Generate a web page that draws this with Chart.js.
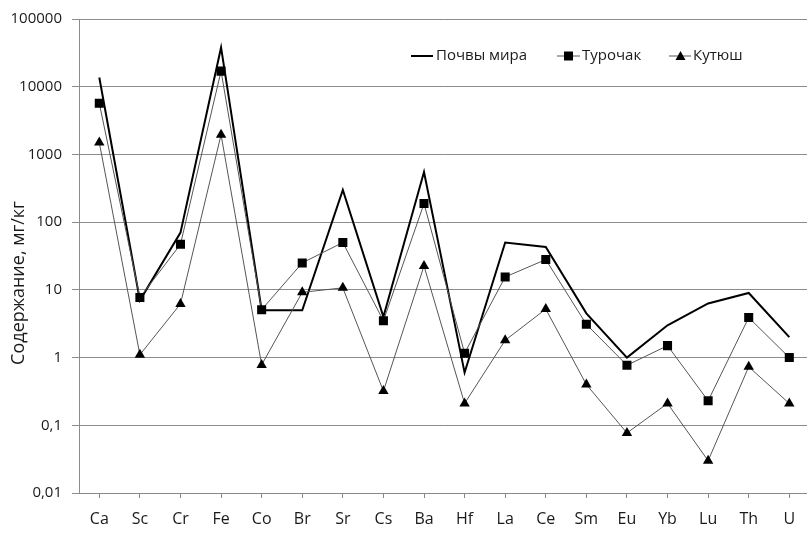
<!DOCTYPE html>
<html>
<head>
<meta charset="utf-8">
<script src="https://cdn.jsdelivr.net/npm/chart.js@4/dist/chart.umd.min.js"></script>
<style>
    body { margin: 0; background: #fff; overflow: hidden; }
    #wrap { width: 816px; height: 534px; }
</style>
</head>
<body>
<div id="wrap"><canvas id="grafico" width="816" height="534"></canvas></div>
<script>
// Элементы
const elementos = ['Ca', 'Sc', 'Cr', 'Fe', 'Co', 'Br', 'Sr', 'Cs', 'Ba', 'Hf', 'La', 'Ce', 'Sm', 'Eu', 'Yb', 'Lu', 'Th', 'U'];

// Содержание, мг/кг
const pochvyMira = [13700, 7, 70, 38000, 5, 5, 300, 4, 550, 0.6, 50, 43, 4.5, 1, 3, 6.3, 9, 2];
const turochak = [5700, 7.7, 47, 17000, 5.1, 25, 50, 3.5, 188, 1.16, 15.5, 28, 3.1, 0.77, 1.5, 0.23, 3.9, 1];
const kutyush = [1500, 1.1, 6.2, 1950, 0.78, 9.2, 10.7, 0.32, 22.5, 0.21, 1.8, 5.2, 0.4, 0.077, 0.21, 0.03, 0.73, 0.21];

// Деления оси Y
const yTicks = [0.01, 0.1, 1, 10, 100, 1000, 10000, 100000];
const yTickLabels = ['0,01', '0,1', '1', '10', '100', '1000', '10000', '100000'];

const FONTE = '"Open Sans", "Noto Sans", sans-serif';
const COR_TEXTO = '#1a1a1a';

// Легенда и подпись оси рисуются вручную
const legendaPlugin = {
    id: 'legendaManual',
    afterDraw(chart) {
        const ctx = chart.ctx;
        const y = 56;
        ctx.save();
        ctx.font = '15px ' + FONTE;
        ctx.fillStyle = COR_TEXTO;
        ctx.textBaseline = 'middle';

        // Почвы мира
        ctx.strokeStyle = '#000';
        ctx.lineWidth = 2;
        ctx.beginPath(); ctx.moveTo(411, y); ctx.lineTo(433, y); ctx.stroke();
        ctx.fillText('Почвы мира', 436, y);

        // Турочак
        ctx.strokeStyle = '#555';
        ctx.lineWidth = 1;
        ctx.beginPath(); ctx.moveTo(557, y); ctx.lineTo(580, y); ctx.stroke();
        ctx.fillStyle = '#000';
        ctx.fillRect(564, y - 4.5, 9, 9);
        ctx.fillStyle = COR_TEXTO;
        ctx.fillText('Турочак', 582, y);

        // Кутюш
        ctx.beginPath(); ctx.moveTo(669, y); ctx.lineTo(691, y); ctx.stroke();
        ctx.fillStyle = '#000';
        ctx.beginPath();
        ctx.moveTo(680.5, y - 5); ctx.lineTo(685.5, y + 4); ctx.lineTo(675.5, y + 4);
        ctx.closePath(); ctx.fill();
        ctx.fillStyle = COR_TEXTO;
        ctx.fillText('Кутюш', 693, y);

        // Подпись оси Y
        ctx.translate(19, 283);
        ctx.rotate(-Math.PI / 2);
        ctx.textAlign = 'center';
        ctx.font = '18px ' + FONTE;
        ctx.fillText('Содержание, мг/кг', 0, 0);
        ctx.restore();
    }
};

const ctx = document.getElementById('grafico').getContext('2d');
new Chart(ctx, {
    type: 'line',
    data: {
        labels: elementos,
        datasets: [{
            label: 'Почвы мира',
            data: pochvyMira,
            borderColor: '#000',
            borderWidth: 2,
            pointRadius: 0,
            tension: 0,
            order: 2
        }, {
            label: 'Турочак',
            data: turochak,
            borderColor: '#555',
            borderWidth: 1,
            pointStyle: 'rect',
            pointRadius: 6.4,
            pointBackgroundColor: '#000',
            pointBorderWidth: 0,
            tension: 0,
            order: 1
        }, {
            label: 'Кутюш',
            data: kutyush,
            borderColor: '#555',
            borderWidth: 1,
            pointStyle: 'triangle',
            pointRadius: 6,
            pointBackgroundColor: '#000',
            pointBorderWidth: 0,
            tension: 0,
            order: 0
        }]
    },
    options: {
        responsive: false,
        animation: false,
        layout: {
            padding: { top: 17, right: 2, left: 0, bottom: 0 }
        },
        plugins: {
            legend: { display: false },
            tooltip: { enabled: false }
        },
        scales: {
            x: {
                type: 'category',
                offset: true,
                afterFit: (scale) => { scale.height = 41; },
                grid: {
                    drawOnChartArea: false,
                    offset: false,
                    tickLength: 5,
                    color: '#888'
                },
                border: { color: '#888', width: 1 },
                ticks: {
                    color: COR_TEXTO,
                    font: { family: FONTE, size: 16 },
                    padding: 12,
                    maxRotation: 0,
                    autoSkip: false
                }
            },
            y: {
                type: 'logarithmic',
                min: 0.01,
                max: 100000,
                afterFit: (scale) => { scale.width = 79; },
                afterBuildTicks: (scale) => {
                    scale.ticks = yTicks.map(v => ({ value: v }));
                },
                grid: {
                    color: '#8c8c8c',
                    tickLength: 7,
                    lineWidth: 1
                },
                border: { color: '#8c8c8c', width: 1 },
                ticks: {
                    color: COR_TEXTO,
                    font: { family: FONTE, size: 15 },
                    padding: 10,
                    callback: (valor) => {
                        const i = yTicks.indexOf(valor);
                        return i >= 0 ? yTickLabels[i] : '';
                    }
                }
            }
        }
    },
    plugins: [legendaPlugin]
});
</script>
</body>
</html>
